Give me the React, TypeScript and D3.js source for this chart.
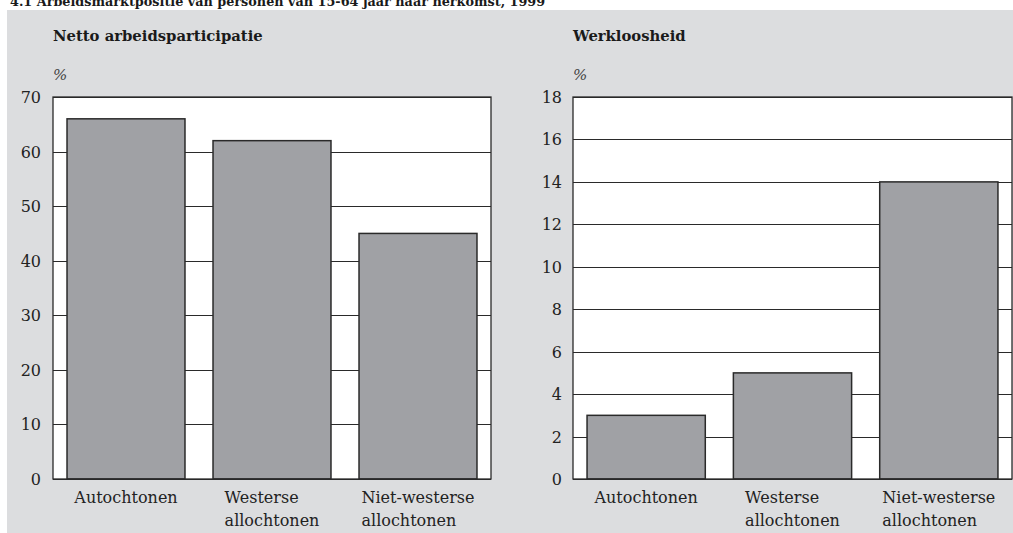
import React, { useEffect, useRef } from "react";
import * as d3 from "d3";

const chartTitle = "4.1 Arbeidsmarktpositie van personen van 15-64 jaar naar herkomst, 1999";
const categories: string[][] = [["Autochtonen"], ["Westerse", "allochtonen"], ["Niet-westerse", "allochtonen"]];
const participationValues = [66, 62, 45];
const unemploymentValues = [3, 5, 14];
const participationTicks = [0, 10, 20, 30, 40, 50, 60, 70];
const unemploymentTicks = [0, 2, 4, 6, 8, 10, 12, 14, 16, 18];
const panelTitles = ["Netto arbeidsparticipatie", "Werkloosheid"];
const unitLabel = "%";

const W = 1013;
const H = 533;
const FONT = "'DejaVu Serif', 'Liberation Serif', serif";

export default function App() {
  const ref = useRef<SVGSVGElement>(null);

  useEffect(() => {
    document.body.style.margin = "0";
    const svg = d3.select(ref.current!);
    svg.selectAll("*").remove();

    svg.append("rect").attr("x", 0).attr("y", 0).attr("width", W).attr("height", H).attr("fill", "#ffffff");
    svg.append("rect").attr("x", 7).attr("y", 10).attr("width", W - 7).attr("height", H - 10).attr("fill", "#dcdddf");

    svg.append("text")
      .attr("x", 10).attr("y", 6)
      .attr("font-family", FONT).attr("font-weight", "bold").attr("font-size", 12.8)
      .attr("fill", "#1a1a1a")
      .text(chartTitle);

    const panels = [
      { x0: 53, x1: 491, values: participationValues, ticks: participationTicks, max: 70, title: panelTitles[0], tickRight: 41 },
      { x0: 573, x1: 1012, values: unemploymentValues, ticks: unemploymentTicks, max: 18, title: panelTitles[1], tickRight: 562 },
    ];

    panels.forEach((p) => {
      const g = svg.append("g");
      const y = d3.scaleLinear().domain([0, p.max]).range([479, 97]);
      const x = d3.scaleBand<number>().domain(d3.range(categories.length)).range([p.x0, p.x1])
        .paddingInner(0.192).paddingOuter(0.096);

      g.append("text").attr("x", p.x0).attr("y", 41)
        .attr("font-family", FONT).attr("font-weight", "bold").attr("font-size", 14.8)
        .attr("fill", "#1a1a1a").text(p.title);
      g.append("text").attr("x", p.x0).attr("y", 80)
        .attr("font-family", FONT).attr("font-style", "italic").attr("font-size", 15)
        .attr("fill", "#444").text(unitLabel);

      g.append("rect").attr("x", p.x0).attr("y", y(p.max)).attr("width", p.x1 - p.x0)
        .attr("height", y(0) - y(p.max)).attr("fill", "#ffffff");

      g.selectAll("line.grid").data(p.ticks).enter().append("line")
        .attr("x1", p.x0).attr("x2", p.x1)
        .attr("y1", (d) => Math.round(y(d)) + 0.5).attr("y2", (d) => Math.round(y(d)) + 0.5)
        .attr("stroke", "#2a2a2a").attr("stroke-width", 1.2);

      g.selectAll("text.tick").data(p.ticks).enter().append("text")
        .attr("x", p.tickRight).attr("y", (d) => y(d) + 6)
        .attr("text-anchor", "end")
        .attr("font-family", FONT).attr("font-size", 16).attr("fill", "#222")
        .text((d) => String(d));

      g.selectAll("rect.bar").data(p.values).enter().append("rect")
        .attr("x", (_, i) => x(i)!).attr("y", (d) => y(d))
        .attr("width", x.bandwidth()).attr("height", (d) => y(0) - y(d))
        .attr("fill", "#a0a1a5").attr("stroke", "#2a2a2a").attr("stroke-width", 1.5);

      g.append("rect").attr("x", p.x0).attr("y", y(p.max)).attr("width", p.x1 - p.x0)
        .attr("height", y(0) - y(p.max)).attr("fill", "none")
        .attr("stroke", "#2a2a2a").attr("stroke-width", 1.3);

      categories.forEach((lines, i) => {
        const cx = x(i)! + x.bandwidth() / 2;
        const t = g.append("text").attr("font-family", FONT).attr("font-size", 16).attr("fill", "#222");
        const spans = lines.map((line, j) =>
          t.append("tspan").attr("y", 503 + j * 23).text(line)
        );
        const widths = spans.map((s) => (s.node() as SVGTSpanElement).getComputedTextLength());
        const maxW = d3.max(widths) || 0;
        spans.forEach((s) => s.attr("x", cx - maxW / 2));
      });
    });
  }, []);

  return <svg ref={ref} width={W} height={H} style={{ display: "block" }} />;
}
